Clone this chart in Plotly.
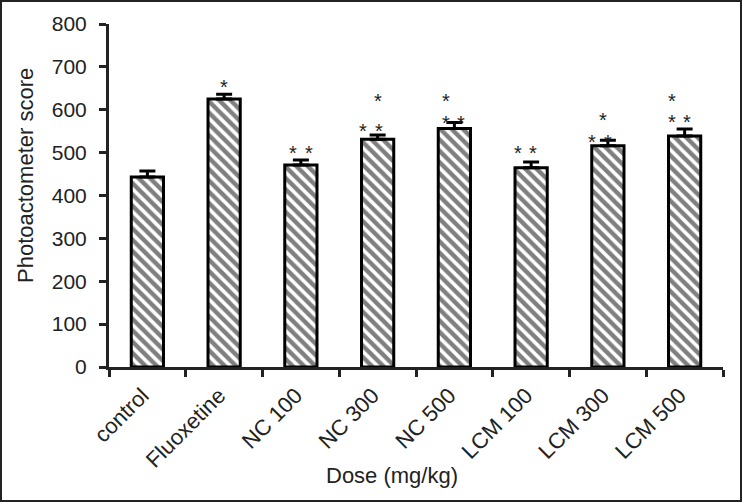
import plotly.graph_objects as go

groups = ["control", "Fluoxetine", "NC 100", "NC 300", "NC 500", "LCM 100", "LCM 300", "LCM 500"]
scores = [443, 625, 471, 531, 556, 465, 516, 539]
sem = [14, 11, 12, 10, 14, 13, 13, 16]

# significance stars: group, y value, horizontal nudge in px
star_group = ["Fluoxetine", "NC 100", "NC 100", "NC 300", "NC 300", "NC 300",
              "NC 500", "NC 500", "NC 500", "LCM 100", "LCM 100",
              "LCM 300", "LCM 300", "LCM 300", "LCM 500", "LCM 500", "LCM 500"]
star_y = [662, 508, 508, 559, 559, 629,
          578, 578, 630, 508, 508,
          534, 534, 585, 580, 580, 630]
star_dx = [0, -8, 8, -15, 1, 0,
           -8, 7, -8, -13, 2,
           -16, 0, -5, -13, 2, -13]

W, H = 742, 502
ml, mr, mt, mb = 109, 19, 24, 135
pw, ph = W - ml - mr, H - mt - mb

def px_x(p):
    return (p - ml) / pw

def px_y(p):
    return (H - mb - p) / ph

txt = "#222222"
fnt = "Liberation Sans, Arial, sans-serif"

fig = go.Figure()

fig.add_trace(go.Bar(
    x=groups, y=scores, width=0.42,
    marker=dict(color="white", line=dict(color="black", width=3),
                pattern=dict(shape="\\", fgcolor="black", bgcolor="white",
                             size=8, solidity=0.55, fillmode="overlay")),
    error_y=dict(type="data", array=sem, arrayminus=[0] * len(sem), symmetric=False,
                 color="black", thickness=3, width=8),
    showlegend=False,
))

for g, y, dx in zip(star_group, star_y, star_dx):
    fig.add_annotation(x=g, y=y, text="*", showarrow=False, xshift=dx, yshift=-4,
                       font=dict(size=20, color=txt, family=fnt))

fig.add_annotation(xref="paper", yref="paper", x=px_x(25), y=px_y(176),
                   xanchor="center", yanchor="middle",
                   text="Photoactometer score", textangle=-90, showarrow=False,
                   font=dict(size=22, color=txt, family=fnt))
fig.add_annotation(xref="paper", yref="paper", x=px_x(392), y=px_y(475),
                   xanchor="center", yanchor="middle",
                   text="Dose (mg/kg)", showarrow=False,
                   font=dict(size=22, color=txt, family=fnt))

fig.add_shape(type="rect", xref="paper", yref="paper",
              x0=px_x(1), x1=px_x(741), y0=px_y(501), y1=px_y(1),
              line=dict(color="#222222", width=2))

fig.update_layout(
    width=W, height=H,
    margin=dict(l=ml, r=mr, t=mt, b=mb),
    paper_bgcolor="white", plot_bgcolor="white",
    font=dict(family=fnt, color=txt, size=20),
    xaxis=dict(showline=True, linecolor="#222222", linewidth=3,
               ticks="outside", tickson="boundaries", ticklen=7, tickwidth=3,
               tickcolor="#222222", tickangle=-45, tickfont=dict(size=22),
               ticklabelstandoff=4, ticklabelshift=-5, showgrid=False),
    yaxis=dict(range=[0, 800], dtick=100, showline=True, linecolor="#222222", linewidth=3,
               ticks="outside", ticklen=7, tickwidth=3, tickcolor="#222222",
               tickfont=dict(size=21), showgrid=False, zeroline=False,
               ticklabelstandoff=8),
)

fig.write_html("out.html", config={"displayModeBar": False},
               post_script="document.body.style.margin='0';")
